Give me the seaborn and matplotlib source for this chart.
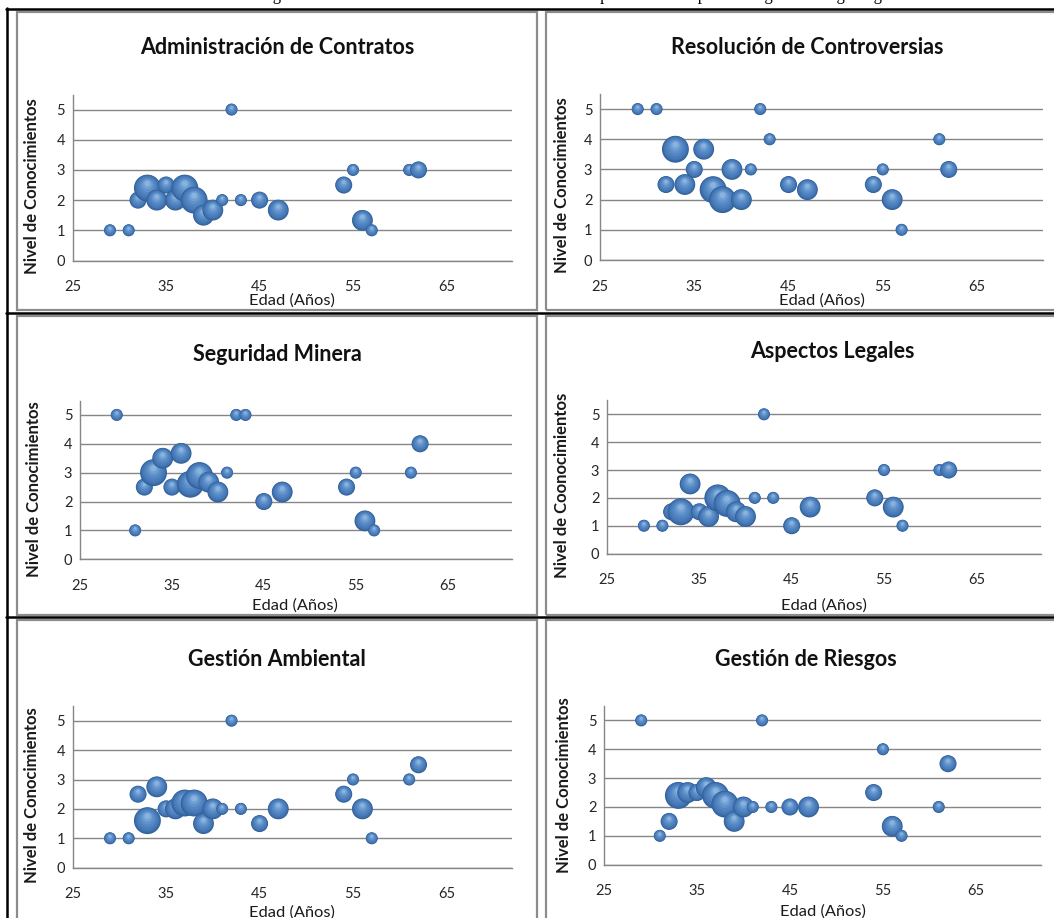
import numpy as np
import pandas as pd
import matplotlib
matplotlib.use("Agg")
import matplotlib.pyplot as plt
import seaborn as sns
from matplotlib.path import Path
from matplotlib.patches import Rectangle
from matplotlib.lines import Line2D

# ---------------- data ----------------
edades = [29, 31, 32, 33, 34, 35, 36, 37, 38, 39, 40, 41, 42, 43, 45, 47, 54, 55, 56, 57, 61, 62]
geologos_por_edad = [1, 1, 2, 5, 3, 2, 3, 5, 5, 3, 3, 1, 1, 1, 2, 3, 2, 1, 3, 1, 1, 2]

administracion_contratos = [1, 1, 2, 2.4, 2, 2.5, 2, 2.4, 2, 1.5, 1.67, 2, 5, 2, 2, 1.67, 2.5, 3, 1.33, 1, 3, 3]
resolucion_controversias = [5, 5, 2.5, 3.67, 2.5, 3, 3.67, 2.33, 2, 3, 2, 3, 5, 4, 2.5, 2.33, 2.5, 3, 2, 1, 4, 3]
seguridad_minera = [5, 1, 2.5, 3, 3.5, 2.5, 3.67, 2.6, 2.9, 2.67, 2.33, 3, 5, 5, 2, 2.33, 2.5, 3, 1.33, 1, 3, 4]
aspectos_legales = [1, 1, 1.5, 1.5, 2.5, 1.5, 1.33, 2, 1.8, 1.5, 1.33, 2, 5, 2, 1, 1.67, 2, 3, 1.67, 1, 3, 3]
gestion_ambiental = [1, 1, 2.5, 1.6, 2.75, 2, 2, 2.2, 2.2, 1.5, 2, 2, 5, 2, 1.5, 2, 2.5, 3, 2, 1, 3, 3.5]
gestion_riesgos = [5, 1, 1.5, 2.4, 2.5, 2.5, 2.67, 2.4, 2.1, 1.5, 2, 2, 5, 2, 2, 2, 2.5, 4, 1.33, 1, 2, 3.5]

titulos = ["Administración de Contratos", "Resolución de Controversias",
           "Seguridad Minera", "Aspectos Legales",
           "Gestión Ambiental", "Gestión de Riesgos"]
etiquetas_y = ["Nivel de Conocimientos", "Nivel de Conocimientos",
               "Nivel de Conocimientos", "Nivel de Coonocimientos",
               "Nivel de Conocimientos", "Nivel de Conocimientos"]
etiqueta_x = "Edad (Años)"
ticks_x = [25, 35, 45, 55, 65]
ticks_y = [0, 1, 2, 3, 4, 5]
texto_superior = ("Relación entre la edad de Geólogos de la UCM con el nivel de "
                  "conocimientos respecto de los aspectos de gestión de geólogos de la UCM.")

series = [administracion_contratos, resolucion_controversias, seguridad_minera,
          aspectos_legales, gestion_ambiental, gestion_riesgos]

# ---------------- figure ----------------
sns.set_style("white")
plt.rcParams["font.family"] = ["Lato", "DejaVu Sans"]

W, H = 1054, 918
fig = plt.figure(figsize=(W / 100, H / 100), dpi=100)
fig.patch.set_facecolor("white")


def fx(px):
    return px / W


def fy(py):
    return 1 - py / H


# shading layers for the 3-D bubble look: (radius fraction, upward shift, colour)
capas = [(1.00, 0.00, "#30609A"), (0.95, 0.02, "#3A6AA5"), (0.87, 0.05, "#4375B2"),
         (0.77, 0.09, "#4A7DBA"), (0.64, 0.14, "#5386C2"), (0.50, 0.20, "#5F91CA"),
         (0.36, 0.27, "#71A0D3"), (0.22, 0.33, "#8AB2DE")]
nombres_capas = [f"c{i}" for i in range(len(capas))]


def capa_path(f, c):
    circ = Path.circle(center=(0.0, c), radius=f)
    verts = np.vstack([[[1.0, 1.0], [-1.0, -1.0]], circ.vertices])
    codes = np.concatenate([[Path.MOVETO, Path.MOVETO], circ.codes])
    return Path(verts, codes)


marcadores = {n: capa_path(f, c) for n, (f, c, _) in zip(nombres_capas, capas)}
paleta = {n: col for n, (_, _, col) in zip(nombres_capas, capas)}

# panel geometry in pixels: axes box, title centre/baseline, y-label centre, x-label centre
paneles = [
    dict(box=(72.6, 512, 94.5, 260.5), tit=(277, 54.5), yl=(32, 186.5), xl=(292.3, 300.5)),
    dict(box=(600, 1043, 94, 260), tit=(807, 54.5), yl=(562, 185.5), xl=(821.5, 300.5)),
    dict(box=(80, 512, 400.5, 559.3), tit=(277, 360.7), yl=(34, 489), xl=(295, 606)),
    dict(box=(607, 1041, 400.4, 553.6), tit=(832, 358), yl=(562, 485.5), xl=(824.4, 606)),
    dict(box=(72.6, 512, 706, 867.7), tit=(277, 665.7), yl=(32, 795.6), xl=(292, 912.5)),
    dict(box=(604, 1041, 706, 864.7), tit=(806, 665.6), yl=(564, 785.5), xl=(823.4, 912)),
]

gris = "#868686"

for serie, titulo, ylab, p in zip(series, titulos, etiquetas_y, paneles):
    l, r, t, b = p["box"]
    ax = fig.add_axes([fx(l), fy(b), (r - l) / W, (b - t) / H])
    ax.set_facecolor("none")

    for edad, nivel, n in zip(edades, serie, geologos_por_edad):
        df = pd.DataFrame({"edad": [edad] * len(capas),
                           "nivel": [nivel] * len(capas),
                           "geologos": [n] * len(capas),
                           "capa": nombres_capas})
        sns.scatterplot(data=df, x="edad", y="nivel", hue="capa", style="capa",
                        size="geologos", palette=paleta, markers=marcadores,
                        hue_order=nombres_capas, style_order=nombres_capas,
                        sizes=(75, 375), size_norm=(1, 5),
                        edgecolor="none", linewidth=0, legend=False, ax=ax)

    ax.set_xlim(25, 72)
    ax.set_ylim(0, 5.5)
    ax.set_xticks(ticks_x)
    ax.set_yticks(ticks_y)
    ax.yaxis.grid(True, color=gris, linewidth=1.0)
    ax.xaxis.grid(False)
    ax.set_axisbelow(True)
    for s in ["top", "right"]:
        ax.spines[s].set_visible(False)
    for s in ["left", "bottom"]:
        ax.spines[s].set_color(gris)
        ax.spines[s].set_linewidth(1.0)
    ax.tick_params(axis="both", direction="out", length=4, width=1, color=gris,
                   labelsize=10.5, labelcolor="#262626")
    ax.tick_params(axis="x", pad=10.2)
    ax.tick_params(axis="y", pad=1.5)

    ax.set_xlabel(etiqueta_x, fontsize=11.8, color="#1a1a1a", va="center")
    ax.xaxis.set_label_coords(fx(p["xl"][0]), fy(p["xl"][1]), transform=fig.transFigure)
    ax.set_ylabel(ylab, fontsize=12, fontweight="bold", color="#1a1a1a", va="center")
    ax.yaxis.set_label_coords(fx(p["yl"][0]), fy(p["yl"][1]), transform=fig.transFigure)

    fig.text(fx(p["tit"][0]), fy(p["tit"][1]), titulo, ha="center", va="baseline",
             fontsize=15.5, fontweight="bold", color="#111111")

# chart borders (grey) and table rules (black)
for (x0, x1) in [(16.5, 536.5), (545.5, 1070)]:
    for (y0, y1) in [(11.5, 309.5), (315.5, 614.5), (619.5, 940)]:
        fig.add_artist(Rectangle((fx(x0), fy(y1)), (x1 - x0) / W, (y1 - y0) / H,
                                 transform=fig.transFigure, fill=False,
                                 edgecolor="#8c8c8c", linewidth=1.6))
for yy in [8.8, 312.5, 616.8]:
    fig.add_artist(Line2D([fx(5.5), fx(1054)], [fy(yy), fy(yy)], transform=fig.transFigure,
                          color="black", linewidth=1.8))
fig.add_artist(Line2D([fx(6.6), fx(6.6)], [fy(7.9), fy(918)], transform=fig.transFigure,
                      color="black", linewidth=1.8))

# caption line running above the table (only its lower edge falls on the canvas)
fig.text(fx(60), fy(0.5), texto_superior, ha="left", va="baseline",
         fontsize=12, family=["Liberation Serif", "DejaVu Serif"], color="black")

fig.savefig("out.png", dpi=100, facecolor="white")
